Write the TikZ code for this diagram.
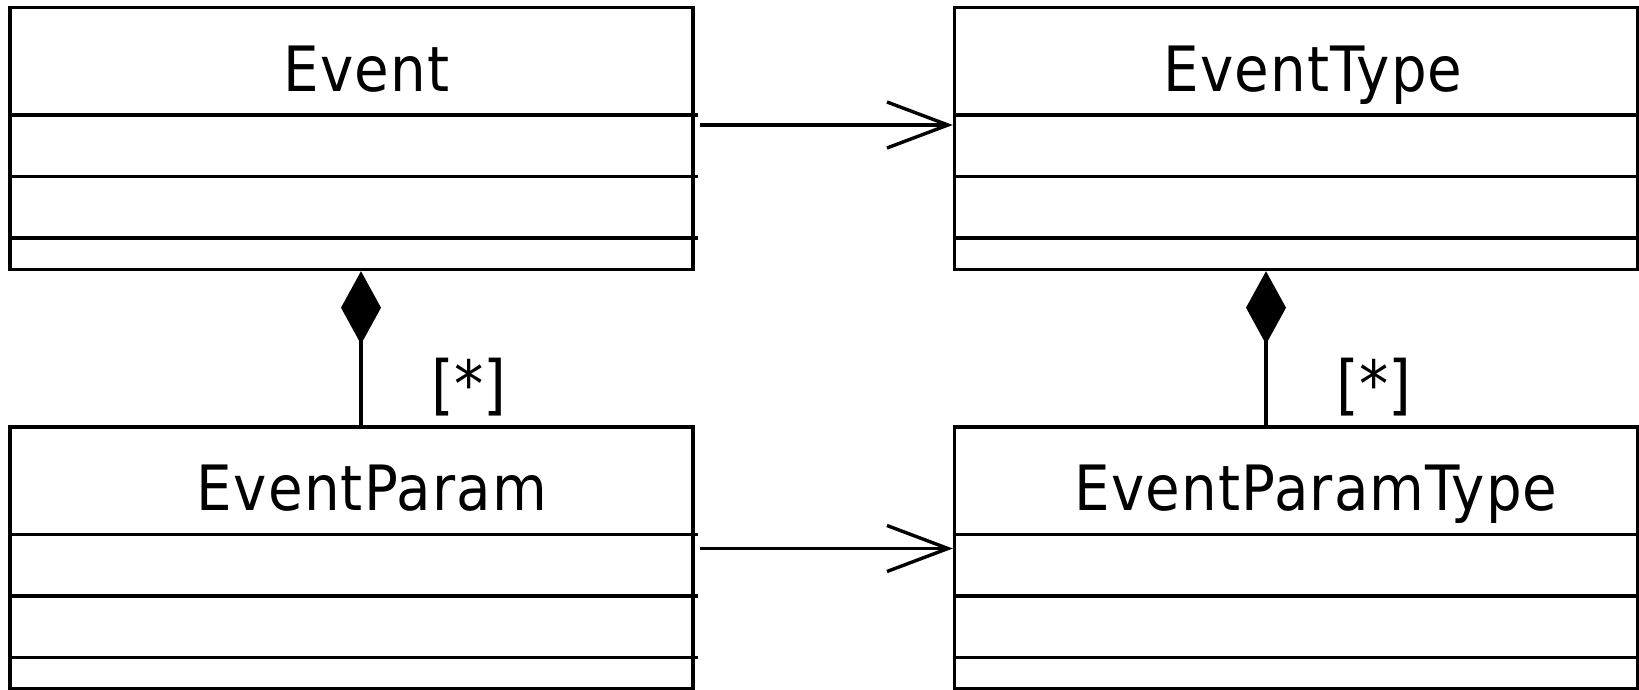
\documentclass[tikz,border=0pt]{standalone}
\usepackage{fontspec}
\setmainfont{DejaVu Sans Condensed}
\newfontfamily\titlefont[LetterSpace=2.0]{DejaVu Sans Condensed}
\usetikzlibrary{arrows.meta}
\newcommand\umlclass[5]{% name, center x, top y, label, label x
  \node[classbox] (#1) at (#2,#3+131) {};
  \draw[ln] ([yshift=-109pt]#1.north west) -- ([yshift=-109pt,xshift=3pt]#1.north east);
  \draw[ln] ([yshift=-170.5pt]#1.north west) -- ([yshift=-170.5pt,xshift=3pt]#1.north east);
  \draw[ln] ([yshift=-232pt]#1.north west) -- ([yshift=-232pt,xshift=3pt]#1.north east);
  \node[title, anchor=base] (#1-t) at (#5,#3+83.5) {#4};
}
\begin{document}
\begin{tikzpicture}[x=1pt,y=-1pt,
  ln/.style={line width=3.4pt},
  classbox/.style={draw, line width=3.4pt, minimum width=683pt, minimum height=262pt, inner sep=0pt},
  title/.style={font=\titlefont\fontsize{62.5}{72}\selectfont, inner sep=0pt},
  mult/.style={font=\fontsize{65}{76}\selectfont, inner sep=0pt},
  assoc/.style={line width=3.4pt, -{Straight Barb[length=61pt, width=46pt, line width=3.4pt]}},
  comp/.style={line width=3.4pt, -{Diamond[length=73pt, width=40pt, fill=black]}}
]
\useasboundingbox (0,0) rectangle (1639,689);
\umlclass{ev}{351.5}{7.5}{Event}{366.5}
\umlclass{et}{1296}{7.5}{EventType}{1313}
\umlclass{ep}{351.5}{427}{EventParam}{372}
\umlclass{ept}{1296}{427}{EventParamType}{1316}
\coordinate (xl) at (361,0);
\coordinate (xr) at (1266,0);
\coordinate (ya) at (0,125);
\coordinate (yb) at (0,548.5);
\draw[assoc] ([xshift=5pt]ev.east |- ya) -- (et.west |- ya);
\draw[assoc] ([xshift=5pt]ep.east |- yb) -- (ept.west |- yb);
\draw[comp] (ep.north -| xl) -- (ev.south -| xl);
\draw[comp] (ept.north -| xr) -- (et.south -| xr);
\node[mult] (m1) at (469,387) {[*]};
\node[mult] (m2) at (1374,387) {[*]};
\end{tikzpicture}
\end{document}
